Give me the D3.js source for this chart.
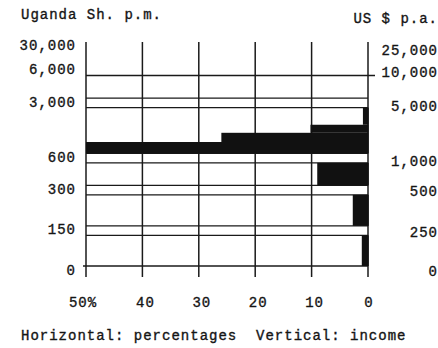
<!DOCTYPE html>
<html><head><meta charset="utf-8">
<script src="https://cdn.jsdelivr.net/npm/d3@7"></script>
<style>
html,body{margin:0;padding:0;background:#fff;}
svg{display:block;}
text{font-family:"Liberation Mono","DejaVu Sans Mono",monospace;font-size:14px;letter-spacing:1px;fill:#151515;stroke:#151515;stroke-width:0.35px;white-space:pre;}
</style></head><body>
<svg id="chart" width="438" height="348"></svg>
<script>
// ---- data ----
const incomeSh = [0, 150, 300, 600, 3000, 6000, 30000];
const incomeShLabels = ["0", "150", "300", "600", "3,000", "6,000", "30,000"];
const incomeUsLabels = ["0", "250", "500", "1,000", "5,000", "10,000", "25,000"];
const pctTicks = [50, 40, 30, 20, 10, 0];
const pctTickLabels = ["50%", "40", "30", "20", "10", "0"];
// bars: income band (Uganda Sh. p.m.) and percentage of population
const bandFrom = [0, 150, 300, 600, 1300, 1700, 2050];
const bandTo = [150, 300, 600, 1300, 1700, 2050, 3000];
const bandPct = [1.1, 2.7, 9.0, 50, 26, 10.2, 0.9];
const doubleBounds = [150, 300, 600, 3000];
const singleBounds = [0, 6000];

// ---- drawing ----
const svg = d3.select("#chart");
const x = d3.scaleLinear().domain([50, 0]).range([86, 368]);
const y = d3.scaleLinear().domain(incomeSh).range([266, 230.6, 190.1, 158.1, 102.9, 75.5, 42.5]);
const gap = 4.7;
const ink = "#1a1a1a";

// vertical grid lines
svg.append("g").selectAll("line").data(pctTicks).join("line")
  .attr("x1", d => x(d)).attr("x2", d => x(d))
  .attr("y1", y(30000) - 0.5).attr("y2", 277)
  .attr("stroke", ink).attr("stroke-width", 1.5);

// double boundary lines
const dbl = [];
doubleBounds.forEach(b => { dbl.push(y(b) - gap); dbl.push(y(b) + gap); });
svg.append("g").selectAll("line").data(dbl).join("line")
  .attr("x1", x(50)).attr("x2", x(0))
  .attr("y1", d => d).attr("y2", d => d)
  .attr("stroke", ink).attr("stroke-width", 1.3);

// single boundary lines
svg.append("g").selectAll("line").data(singleBounds).join("line")
  .attr("x1", d => d === 0 ? x(50) - 3 : x(50))
  .attr("x2", d => d === 6000 ? x(0) + 7 : x(0))
  .attr("y1", d => y(d)).attr("y2", d => y(d))
  .attr("stroke", ink).attr("stroke-width", 1.3);

// bars
const bars = bandPct.map((p, i) => ({ p, from: bandFrom[i], to: bandTo[i] }));
svg.append("g").selectAll("rect").data(bars).join("rect")
  .attr("x", d => x(Math.min(d.p, 50)))
  .attr("width", d => x(0) - x(Math.min(d.p, 50)) + 0.7)
  .attr("y", d => y(d.to) + (doubleBounds.includes(d.to) ? gap : 0))
  .attr("height", d => (y(d.from) - (doubleBounds.includes(d.from) ? gap : 0)) - (y(d.to) + (doubleBounds.includes(d.to) ? gap : 0)))
  .attr("fill", "#111");

// left labels
const leftNudge = v => v === 30000 ? 3 : v === 6000 ? -6 : v === 0 ? 4 : -1;
svg.append("g").selectAll("text").data(incomeSh).join("text")
  .attr("x", 76).attr("text-anchor", "end")
  .attr("y", d => y(d) + leftNudge(d) + 4.6)
  .text((d, i) => incomeShLabels[i]);

// right labels
const rightNudge = v => v === 30000 ? 7.5 : v === 6000 ? -3 : v === 0 ? 5.7 : v === 3000 || v === 600 ? 3.7 : 1.3;
svg.append("g").selectAll("text").data(incomeSh).join("text")
  .attr("x", 438).attr("text-anchor", "end")
  .attr("y", d => y(d) + rightNudge(d) + 4.6)
  .text((d, i) => incomeUsLabels[i]);

// bottom labels
const pctNudge = v => v === 50 ? -3 : v === 0 ? 1 : 3;
svg.append("g").selectAll("text").data(pctTicks).join("text")
  .attr("x", d => x(d) + pctNudge(d)).attr("text-anchor", "middle")
  .attr("y", 306.5)
  .text((d, i) => pctTickLabels[i]);

// titles
svg.append("text").attr("x", 21).attr("y", 18.5).text("Uganda Sh. p.m.");
svg.append("text").attr("x", 438).attr("y", 23).attr("text-anchor", "end").text("US $ p.a.");
svg.append("text").attr("x", 21).attr("y", 340).text("Horizontal: percentages  Vertical: income");
</script>
</body></html>
